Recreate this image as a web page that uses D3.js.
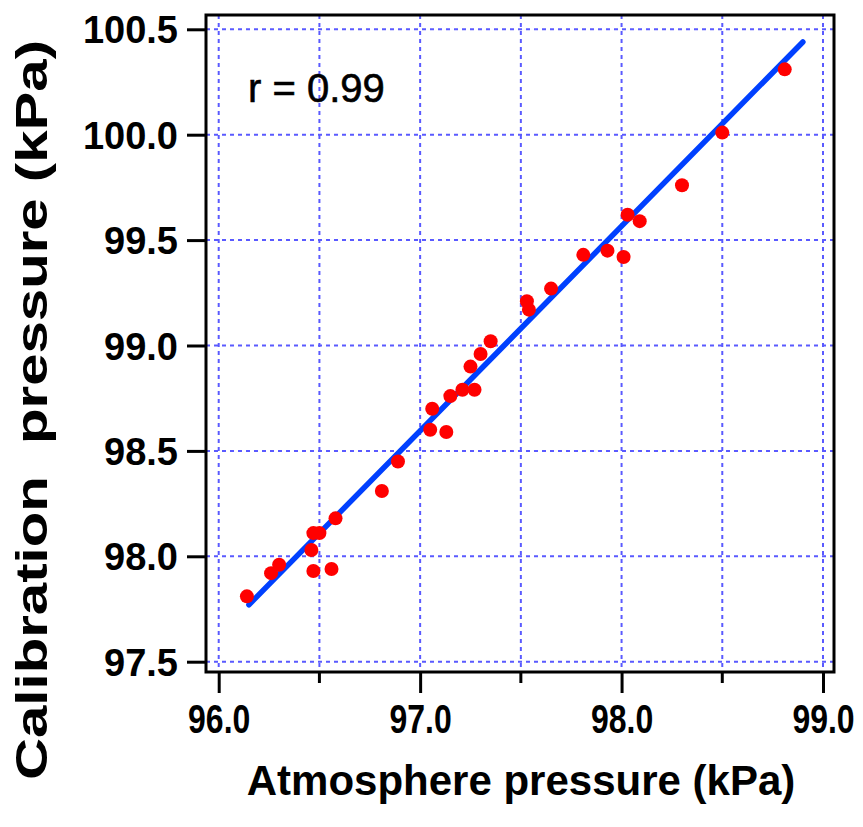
<!doctype html>
<html lang="en">
  <head>
    <meta charset="utf-8">
    <title>Calibration vs atmosphere pressure</title>
    <script src="https://d3js.org/d3.v7.min.js"></script>
    <style>
      body { margin: 0; background: #fff; }
      text { font-family: "Liberation Sans", Arial, sans-serif; }
    </style>
  </head>

  <body>
    <svg width="863" height="827"></svg>
    <script>
      // measured points (kPa)
      var atmosphere = [96.14, 96.26, 96.30, 96.47, 96.50, 96.46, 96.47, 96.56, 96.58,
        96.81, 96.89, 97.05, 97.06, 97.13, 97.15, 97.21, 97.27, 97.25, 97.30, 97.35,
        97.53, 97.54, 97.65, 97.81, 97.93, 98.01, 98.03, 98.09, 98.30, 98.50, 98.81];
      var calibration = [97.81, 97.92, 97.96, 98.11, 98.11, 98.03, 97.93, 97.94, 98.18,
        98.31, 98.45, 98.60, 98.70, 98.59, 98.76, 98.79, 98.79, 98.90, 98.96, 99.02,
        99.21, 99.17, 99.27, 99.43, 99.45, 99.42, 99.62, 99.59, 99.76, 100.01, 100.31];

      // fitted line end points
      var fitX = [96.15, 98.90];
      var fitY = [97.77, 100.44];

      var xTicks = [96.0, 97.0, 98.0, 99.0];
      var xGrid = [96.0, 96.5, 97.0, 97.5, 98.0, 98.5, 99.0];
      var yTicks = [97.5, 98.0, 98.5, 99.0, 99.5, 100.0, 100.5];

      var svg = d3.select('svg');

      var x = d3.scaleLinear().domain([96, 99]).range([218.7, 823]);
      var y = d3.scaleLinear().domain([97.5, 100.5]).range([661.7, 29.3]);

      var frame = { left: 206, top: 15, right: 834, bottom: 672 };

      // grid
      svg.append('g').selectAll('line.vg')
        .data(xGrid)
        .enter().append('line')
          .attr('x1', function(d){ return x(d); })
          .attr('x2', function(d){ return x(d); })
          .attr('y1', frame.top)
          .attr('y2', frame.bottom)
          .style('stroke', '#5a5aff')
          .style('stroke-width', 2)
          .style('stroke-dasharray', '4,4');

      svg.append('g').selectAll('line.hg')
        .data(yTicks)
        .enter().append('line')
          .attr('y1', function(d){ return y(d); })
          .attr('y2', function(d){ return y(d); })
          .attr('x1', frame.left)
          .attr('x2', frame.right)
          .style('stroke', '#5a5aff')
          .style('stroke-width', 2)
          .style('stroke-dasharray', '4,4');

      // frame
      svg.append('rect')
        .attr('x', frame.left)
        .attr('y', frame.top)
        .attr('width', frame.right - frame.left)
        .attr('height', frame.bottom - frame.top)
        .style('fill', 'none')
        .style('stroke', '#000')
        .style('stroke-width', 3);

      // y axis
      var yAxis = d3.axisLeft(y)
        .tickValues(yTicks)
        .tickSize(19)
        .tickPadding(9)
        .tickFormat(d3.format('.1f'));

      var gy = svg.append('g')
        .attr('transform', 'translate(' + frame.left + ',0)')
        .call(yAxis);
      gy.select('.domain').remove();
      gy.selectAll('line').style('stroke-width', 3);
      gy.selectAll('text')
        .style('font-size', '38px')
        .style('font-weight', 'bold')
        .attr('dy', '0.36em');

      // x axis: long ticks on integers, short on halves
      var xAxis = d3.axisBottom(x)
        .tickValues(xTicks)
        .tickSize(21)
        .tickPadding(11)
        .tickFormat(d3.format('.1f'));

      var gx = svg.append('g')
        .attr('transform', 'translate(0,' + frame.bottom + ')')
        .call(xAxis);
      gx.select('.domain').remove();
      gx.selectAll('line').style('stroke-width', 3);
      // labels are narrow in the original, squeeze them sideways
      gx.selectAll('text')
        .style('font-size', '41px')
        .style('font-weight', 'bold')
        .attr('transform', 'scale(0.78,1)');

      var minorX = xGrid.filter(function(d){ return xTicks.indexOf(d) < 0; });
      svg.append('g').selectAll('line')
        .data(minorX)
        .enter().append('line')
          .attr('x1', function(d){ return x(d); })
          .attr('x2', function(d){ return x(d); })
          .attr('y1', frame.bottom)
          .attr('y2', frame.bottom + 11)
          .style('stroke', '#000')
          .style('stroke-width', 3);

      // fitted line
      svg.append('line')
        .attr('x1', x(fitX[0]))
        .attr('y1', y(fitY[0]))
        .attr('x2', x(fitX[1]))
        .attr('y2', y(fitY[1]))
        .style('stroke', '#0040ff')
        .style('stroke-width', 5.5)
        .style('stroke-linecap', 'round');

      // points
      svg.append('g').selectAll('circle')
        .data(atmosphere)
        .enter().append('circle')
          .attr('cx', function(d){ return x(d); })
          .attr('cy', function(d, i){ return y(calibration[i]); })
          .attr('r', 7)
          .style('fill', '#ff0000');

      svg.append('text')
        .attr('x', 248)
        .attr('y', 102)
        .style('font-size', '40px')
        .style('stroke', '#000')
        .style('stroke-width', 0.6)
        .text('r = 0.99');

      // axis titles
      svg.append('text')
        .attr('x', 521)
        .attr('y', 795)
        .attr('text-anchor', 'middle')
        .style('font-size', '42px')
        .style('font-weight', 'bold')
        .text('Atmosphere pressure (kPa)');

      svg.append('text')
        .attr('transform', 'translate(47,410) rotate(-90)')
        .attr('text-anchor', 'middle')
        .attr('textLength', 740)
        .attr('lengthAdjust', 'spacingAndGlyphs')
        .style('font-size', '44px')
        .style('font-weight', 'bold')
        .style('white-space', 'pre')
        .text('Calibration  pressure (kPa)');
    </script>
  </body>
</html>
